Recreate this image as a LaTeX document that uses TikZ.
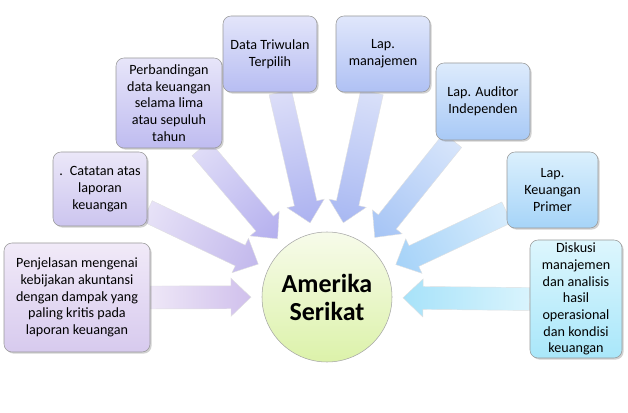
\documentclass[tikz,border=0pt]{standalone}
\usepackage{fontspec}
\setmainfont{Carlito}
\usepackage{tikz}
\usetikzlibrary{calc,shadows}
\usepackage{xcolor}

%% box colours, top -> bottom
\definecolor{pjtop}{HTML}{F1EAF8}\definecolor{pjbot}{HTML}{D7CAEE}
\definecolor{cttop}{HTML}{EBE7F8}\definecolor{ctbot}{HTML}{CCC5EF}
\definecolor{pbtop}{HTML}{E7E5F9}\definecolor{pbbot}{HTML}{BFBCF0}
\definecolor{twtop}{HTML}{E3E5FA}\definecolor{twbot}{HTML}{B7BDF2}
\definecolor{mjtop}{HTML}{E0E7FB}\definecolor{mjbot}{HTML}{AFC1F4}
\definecolor{autop}{HTML}{DDEBFC}\definecolor{aubot}{HTML}{A8C9F6}
\definecolor{kptop}{HTML}{DBF0FD}\definecolor{kpbot}{HTML}{A6D4F8}
\definecolor{dktop}{HTML}{DDF6FD}\definecolor{dkbot}{HTML}{A9E7FA}
\definecolor{amtop}{HTML}{F7FBEA}\definecolor{ambot}{HTML}{DCF2AA}

\pgfdeclarelayer{background}
\pgfsetlayers{background,main}

%% fat block arrow, shaded from #3 (tail) to #4 (tip)
\newcommand\fatarrow[4]{%
  \path (#1) coordinate (fa-s) (#2) coordinate (fa-e);
  \pgfpointdiff{\pgfpointanchor{fa-s}{center}}{\pgfpointanchor{fa-e}{center}}%
  \pgfgetlastxy{\fadx}{\fady}%
  \pgfmathsetmacro\faang{atan2(\fady,\fadx)}%
  \pgfmathsetmacro\falen{veclen(\fadx,\fady)}%
  \shade[left color=#3, right color=#4, draw=black!12, line width=0.3pt,
    transform canvas={shift={(fa-s)}, rotate=\faang}]
    (0pt,-8.6pt) -- (\falen pt-15pt,-8.6pt) -- (\falen pt-15pt,-14.3pt) -- (\falen pt,0pt)
    -- (\falen pt-15pt,14.3pt) -- (\falen pt-15pt,8.6pt) -- (0pt,8.6pt) -- cycle;
}

\tikzset{
  infobox/.style={rectangle, rounded corners=6pt, draw=black!40, line width=0.4pt,
    align=center, inner sep=2pt, text=black,
    font=\fontsize{10.6}{12.5}\selectfont,
    drop shadow={shadow xshift=1.2pt, shadow yshift=-1.2pt, opacity=0.3, fill=black!60}},
  hubcircle/.style={circle, draw=black!35, line width=0.4pt, align=center,
    top color=amtop, bottom color=ambot, minimum size=97.5pt, inner sep=0pt,
    font=\fontsize{19.5}{21}\selectfont\bfseries}
}

\begin{document}
\begin{tikzpicture}[x=0.75pt,y=-0.75pt]
  \useasboundingbox (0,0) rectangle (628,413);

  %% centre
  \node[hubcircle] (am) at (327,297) {Amerika\\Serikat};

  %% boxes (sizes in px * 0.75pt)
  \node[infobox, minimum width=109.5pt, minimum height=81.75pt, top color=pjtop, bottom color=pjbot]
    (pj) at (77,297.5) {Penjelasan mengenai\\kebijakan akuntansi\\dengan dampak yang\\paling kritis pada\\laporan keuangan};
  \node[infobox, minimum width=70.5pt, minimum height=55.5pt, top color=cttop, bottom color=ctbot]
    (ct) at (100,189) {.\enspace Catatan atas\\laporan\\keuangan};
  \node[infobox, minimum width=79.5pt, minimum height=67.5pt, top color=pbtop, bottom color=pbbot]
    (pb) at (169,103) {Perbandingan\\data keuangan\\selama lima\\atau sepuluh\\tahun};
  \node[infobox, minimum width=70.5pt, minimum height=57pt, top color=twtop, bottom color=twbot]
    (tw) at (270,54) {Data Triwulan\\Terpilih};
  \node[infobox, minimum width=70.5pt, minimum height=57pt, top color=mjtop, bottom color=mjbot]
    (mj) at (383,54) {Lap.\\manajemen};
  \node[infobox, minimum width=70.5pt, minimum height=57.75pt, top color=autop, bottom color=aubot]
    (au) at (483,101.5) {Lap. Auditor\\Independen};
  \node[infobox, minimum width=68.25pt, minimum height=57pt, top color=kptop, bottom color=kpbot]
    (kp) at (552.5,190) {Lap.\\Keuangan\\Primer};
  \node[infobox, minimum width=69pt, minimum height=88.5pt, top color=dktop, bottom color=dkbot]
    (dk) at (576,299) {Diskusi\\manajemen\\dan analisis\\hasil\\operasional\\dan kondisi\\keuangan};

  %% arrows into the centre, behind the boxes
  \begin{pgfonlayer}{background}
  \foreach \nm/\ang/\cl/\cd in {
    pj/0/EEE7F7/D0C0EC,
    ct/-25/E7E2F7/C2B8EC,
    pb/-55/DFDCF7/B4AFEE,
    tw/-75/DCDEF8/ACB2F0,
    mj/-106/D9E0F9/A8B8F2,
    au/-128/D7E5FB/A5C4F5,
    kp/-154/D7ECFC/A5D2F8,
    dk/180/D9F4FD/A7E2F9
  }{
    \definecolor{fal}{HTML}{\cl}\definecolor{fad}{HTML}{\cd}
    \fatarrow{\nm.\ang}{$(am.center)!57pt!(\nm.\ang)$}{fal}{fad}
  }
  \end{pgfonlayer}
\end{tikzpicture}
\end{document}
